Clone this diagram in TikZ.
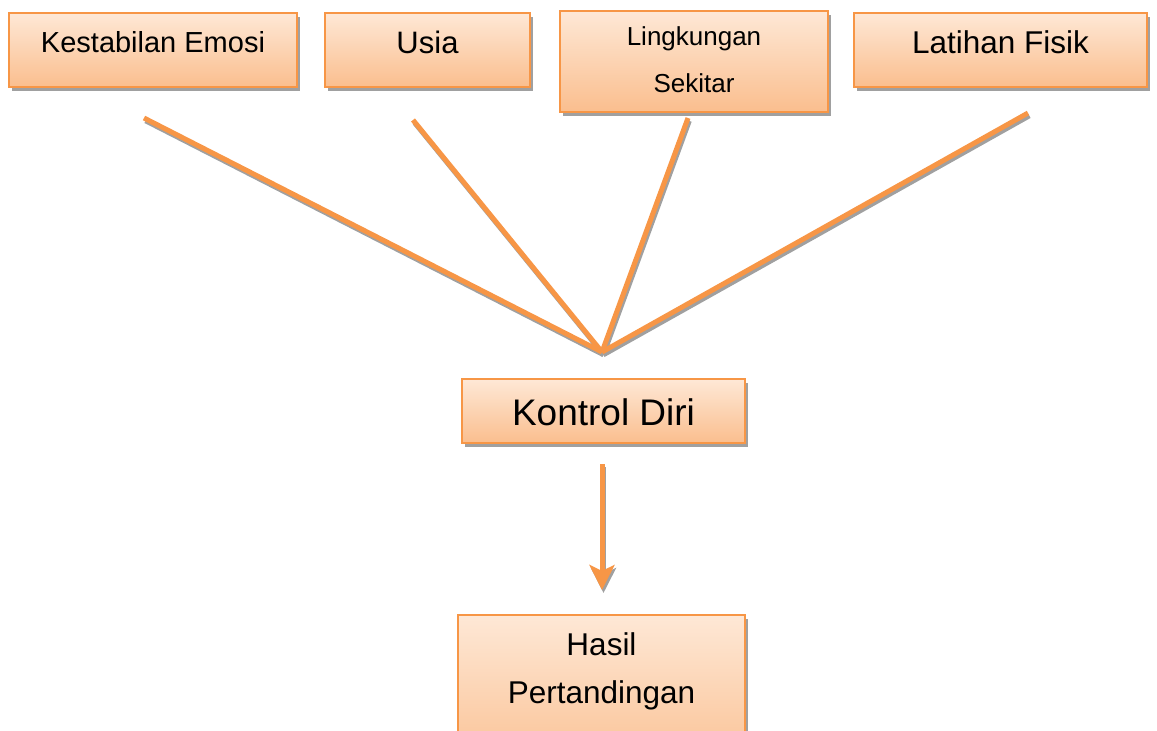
\documentclass[tikz,border=0pt]{standalone}
\usepackage{fontspec}
\setmainfont{Liberation Sans}
\usetikzlibrary{shadows,arrows.meta}
\definecolor{orB}{RGB}{247,150,70}
\definecolor{topC}{RGB}{254,232,214}
\definecolor{botC}{RGB}{250,190,142}
\definecolor{shd}{RGB}{160,160,160}
\tikzset{
  box/.style={draw=orB, line width=1.5pt, top color=topC, bottom color=botC, inner sep=0pt,
    drop shadow={shadow xshift=2.5pt, shadow yshift=-3.5pt, fill=shd, opacity=1}},
  lbl/.style={anchor=base, inner sep=0pt},
  conn/.style={draw=orB, line width=5pt},
  connsh/.style={draw=shd, line width=4.5pt},
  tip/.style={-{Stealth[length=25pt,width=25pt,inset=6pt]}},
}
\begin{document}
\begin{tikzpicture}[x=1pt,y=-1pt]
\useasboundingbox (0,0) rectangle (1157,731);
\clip (0,0) rectangle (1157,731);
% boxes
\node[box, minimum width=288pt, minimum height=74pt] (b1) at (153,50) {};
\node[box, minimum width=205pt, minimum height=74pt] (b2) at (427.5,50) {};
\node[box, minimum width=268pt, minimum height=101pt] (b3) at (694,61.5) {};
\node[box, minimum width=293pt, minimum height=74pt] (b4) at (1000.5,50) {};
\node[box, minimum width=283pt, minimum height=64pt] (kd) at (603.5,411) {};
\node[box, minimum width=287pt, minimum height=165pt] (hp) at (601.5,697.5) {};
% texts
\node[lbl, font=\fontsize{29}{35}\selectfont] (t1) at (153,52) {Kestabilan Emosi};
\node[lbl, font=\fontsize{31}{37}\selectfont] (t2) at (427.5,53) {Usia};
\node[lbl, font=\fontsize{26}{31}\selectfont] (t3a) at (694,45) {Lingkungan};
\node[lbl, font=\fontsize{26}{31}\selectfont] (t3b) at (694,92) {Sekitar};
\node[lbl, font=\fontsize{31.5}{37}\selectfont] (t4) at (1000.5,53) {Latihan Fisik};
\node[lbl, font=\fontsize{37}{44}\selectfont] (t5) at (603.5,425) {Kontrol Diri};
\node[lbl, font=\fontsize{31.5}{37}\selectfont] (t6a) at (601.5,655) {Hasil};
\node[lbl, font=\fontsize{31.5}{37}\selectfont] (t6b) at (601.5,703) {Pertandingan};
% connector coordinates
\coordinate (s1) at (144,118);
\coordinate (s2) at (413,120);
\coordinate (s3) at (688,118);
\coordinate (s4) at (1028,113);
\coordinate (hub) at (602,352);
\coordinate (a1) at (602,464);
\coordinate (a2) at (602,590);
% shadows of connectors
\foreach \s in {s1,s2,s3,s4}{
  \draw[connsh] ([shift={(1.5,3)}]\s) -- ([shift={(1.5,3)}]hub);
}
\draw[connsh, tip] ([shift={(1.5,3)}]a1) -- ([shift={(1.5,3)}]a2);
% connectors
\foreach \s in {s1,s2,s3,s4}{
  \draw[conn] (\s) -- (hub);
}
\draw[conn, tip] (a1) -- (a2);
\end{tikzpicture}
\end{document}
